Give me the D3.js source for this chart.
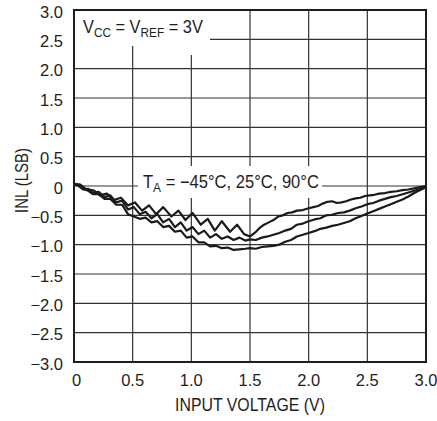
<!DOCTYPE html>
<html><head><meta charset="utf-8">
<script src="https://cdn.jsdelivr.net/npm/d3@7"></script>
<style>
html,body{margin:0;padding:0;background:#fff;}
svg{display:block;}
</style></head>
<body>
<svg id="c" width="437" height="421"></svg>
<script>
// ---- data ----
const xTicks = [0, 0.5, 1.0, 1.5, 2.0, 2.5, 3.0];
const xTickLabels = ["0", "0.5", "1.0", "1.5", "2.0", "2.5", "3.0"];
const yTicks = [3.0, 2.5, 2.0, 1.5, 1.0, 0.5, 0, -0.5, -1.0, -1.5, -2.0, -2.5, -3.0];
const yTickLabels = ["3.0", "2.5", "2.0", "1.5", "1.0", "0.5", "0", "\u22120.5", "\u22121.0", "\u22121.5", "\u22122.0", "\u22122.5", "\u22123.0"];

// upper (zig-zag) trace
const voltsU = [0.00,0.05,0.10,0.17,0.22,0.28,0.34,0.40,0.46,0.52,0.58,0.64,0.70,0.76,0.83,0.89,0.95,1.01,1.08,1.14,1.20,1.26,1.33,1.39,1.45,1.50,1.54,1.58,1.62,1.66,1.70,1.74,1.78,1.82,1.86,1.90,1.95,2.00,2.04,2.08,2.12,2.16,2.20,2.24,2.28,2.32,2.36,2.40,2.44,2.48,2.52,2.56,2.60,2.65,2.70,2.75,2.80,2.85,2.90,2.95,3.00];
const inlU   = [0.02,0.03,-0.05,-0.08,-0.16,-0.13,-0.24,-0.20,-0.33,-0.28,-0.42,-0.33,-0.48,-0.36,-0.52,-0.42,-0.58,-0.46,-0.66,-0.56,-0.76,-0.60,-0.78,-0.66,-0.82,-0.86,-0.80,-0.72,-0.66,-0.62,-0.58,-0.52,-0.50,-0.46,-0.45,-0.42,-0.41,-0.38,-0.36,-0.34,-0.30,-0.27,-0.26,-0.29,-0.28,-0.26,-0.23,-0.21,-0.20,-0.17,-0.16,-0.15,-0.13,-0.12,-0.10,-0.09,-0.07,-0.06,-0.04,-0.02,0.00];
// middle trace
const voltsM = [0.00,0.04,0.08,0.12,0.16,0.21,0.26,0.31,0.36,0.41,0.46,0.51,0.56,0.61,0.66,0.71,0.76,0.81,0.86,0.91,0.96,1.01,1.06,1.11,1.16,1.21,1.26,1.31,1.36,1.41,1.46,1.50,1.55,1.60,1.65,1.70,1.75,1.80,1.85,1.90,1.95,2.00,2.05,2.10,2.15,2.20,2.25,2.30,2.35,2.40,2.45,2.50,2.55,2.60,2.65,2.70,2.75,2.80,2.85,2.90,2.95,3.00];
const inlM   = [0.03,0.00,-0.06,-0.05,-0.12,-0.10,-0.19,-0.16,-0.28,-0.25,-0.40,-0.36,-0.48,-0.44,-0.55,-0.48,-0.62,-0.56,-0.70,-0.62,-0.76,-0.70,-0.82,-0.76,-0.88,-0.82,-0.90,-0.86,-0.92,-0.88,-0.93,-0.91,-0.92,-0.88,-0.86,-0.83,-0.80,-0.76,-0.73,-0.66,-0.64,-0.60,-0.57,-0.55,-0.50,-0.49,-0.46,-0.45,-0.42,-0.38,-0.35,-0.31,-0.29,-0.25,-0.22,-0.19,-0.17,-0.14,-0.11,-0.08,-0.05,-0.02];
// lower trace
const voltsL = [0.00,0.04,0.08,0.12,0.16,0.21,0.26,0.31,0.36,0.41,0.46,0.51,0.56,0.61,0.66,0.71,0.76,0.81,0.86,0.91,0.96,1.01,1.06,1.11,1.16,1.21,1.26,1.31,1.36,1.41,1.46,1.50,1.55,1.60,1.65,1.70,1.75,1.80,1.85,1.90,1.95,2.00,2.05,2.10,2.15,2.20,2.25,2.30,2.35,2.40,2.45,2.50,2.55,2.60,2.65,2.70,2.75,2.80,2.85,2.90,2.95,3.00];
const inlL   = [0.04,0.02,-0.05,-0.08,-0.14,-0.14,-0.22,-0.22,-0.32,-0.32,-0.48,-0.52,-0.56,-0.54,-0.62,-0.60,-0.70,-0.68,-0.78,-0.76,-0.88,-0.86,-0.96,-0.96,-1.03,-1.02,-1.06,-1.05,-1.09,-1.08,-1.07,-1.06,-1.07,-1.04,-1.03,-1.02,-1.00,-0.95,-0.92,-0.86,-0.83,-0.80,-0.77,-0.73,-0.71,-0.68,-0.66,-0.63,-0.60,-0.55,-0.51,-0.47,-0.43,-0.39,-0.35,-0.31,-0.27,-0.23,-0.18,-0.12,-0.07,-0.02];

const svg = d3.select("#c");
const x = d3.scaleLinear().domain([0, 3]).range([74, 426]);
const y = d3.scaleLinear().domain([-3, 3]).range([362, 10]);
const ink = "#1e1e1e";
const narrow = "'Liberation Sans Narrow','Arial Narrow','Liberation Sans',Arial,sans-serif";
const regular = "'Liberation Sans',Arial,sans-serif";

function fitWidth(sel, x0, target) {
  const w = sel.node().getBBox().width;
  const s = target / w;
  sel.attr("transform", `translate(${x0},0) scale(${s},1) translate(${-x0},0)`);
}

// grid
const g = svg.append("g");
g.selectAll("line.v").data(xTicks.slice(1, -1)).enter().append("line")
  .attr("x1", d => x(d)).attr("x2", d => x(d)).attr("y1", y(3)).attr("y2", y(-3))
  .attr("stroke", "#333").attr("stroke-width", 1.2);
g.selectAll("line.h").data(yTicks.slice(1, -1)).enter().append("line")
  .attr("x1", x(0)).attr("x2", x(3)).attr("y1", d => y(d)).attr("y2", d => y(d))
  .attr("stroke", "#333").attr("stroke-width", 1.2);

// label backgrounds
svg.append("rect").attr("x", x(0) + 1).attr("y", y(3) + 1).attr("width", 135).attr("height", 35).attr("fill", "#fff");
svg.append("rect").attr("x", x(1.0) - 3).attr("y", y(3) + 30).attr("width", 6).attr("height", 15).attr("fill", "#fff");
svg.append("rect").attr("x", 138).attr("y", 166).attr("width", 184).attr("height", 32).attr("fill", "#fff");

// traces
const line = d3.line().x(d => x(d[0])).y(d => y(d[1]));
const traces = [d3.zip(voltsU, inlU), d3.zip(voltsM, inlM), d3.zip(voltsL, inlL)];
svg.selectAll("path.trace").data(traces).enter().append("path")
  .attr("d", line).attr("fill", "none").attr("stroke", "#1a1a1a")
  .attr("stroke-width", 2.2).attr("stroke-linejoin", "round");

// frame
svg.append("rect").attr("x", x(0)).attr("y", y(3)).attr("width", x(3) - x(0)).attr("height", y(-3) - y(3))
  .attr("fill", "none").attr("stroke", ink).attr("stroke-width", 2);

// tick labels
svg.selectAll("text.yt").data(yTicks).enter().append("text")
  .attr("x", 63).attr("y", d => y(d) + 7.5).attr("text-anchor", "end")
  .attr("font-family", regular).attr("font-size", 16.5).attr("fill", ink)
  .text((d, i) => yTickLabels[i]);
svg.selectAll("text.xt").data(xTicks).enter().append("text")
  .attr("x", (d, i) => x(d) + (i === 0 ? 2.5 : 0)).attr("y", 386).attr("text-anchor", "middle")
  .attr("font-family", regular).attr("font-size", 16.5).attr("fill", ink)
  .text((d, i) => xTickLabels[i]);

// axis titles
const xt = svg.append("text").attr("x", 250).attr("y", 411).attr("text-anchor", "middle")
  .attr("font-family", narrow).attr("font-size", 19).attr("fill", ink).text("INPUT VOLTAGE (V)");
fitWidth(xt, 250, 150);
const yg = svg.append("g").attr("transform", "translate(27.5,180.5) rotate(-90)");
const ytt = yg.append("text").attr("x", 0).attr("y", 0).attr("text-anchor", "middle")
  .attr("font-family", narrow).attr("font-size", 18).attr("fill", ink).text("INL (LSB)");
fitWidth(ytt, 0, 65);

// annotations
const vl = svg.append("text").attr("x", 83).attr("y", 33)
  .attr("font-family", narrow).attr("font-size", 18).attr("fill", ink);
vl.append("tspan").text("V");
vl.append("tspan").attr("font-size", 13).attr("dy", 4).text("CC");
vl.append("tspan").attr("dy", -4).text(" = V");
vl.append("tspan").attr("font-size", 13).attr("dy", 4).text("REF");
vl.append("tspan").attr("dy", -4).text(" = 3V");
fitWidth(vl, 83, 120);

const tl = svg.append("text").attr("x", 143).attr("y", 188)
  .attr("font-family", narrow).attr("font-size", 18).attr("fill", ink);
tl.append("tspan").text("T");
tl.append("tspan").attr("font-size", 13).attr("dy", 4).text("A");
tl.append("tspan").attr("dy", -4).text(" = \u221245\u00B0C, 25\u00B0C, 90\u00B0C");
fitWidth(tl, 143, 176);
</script>
</body></html>
